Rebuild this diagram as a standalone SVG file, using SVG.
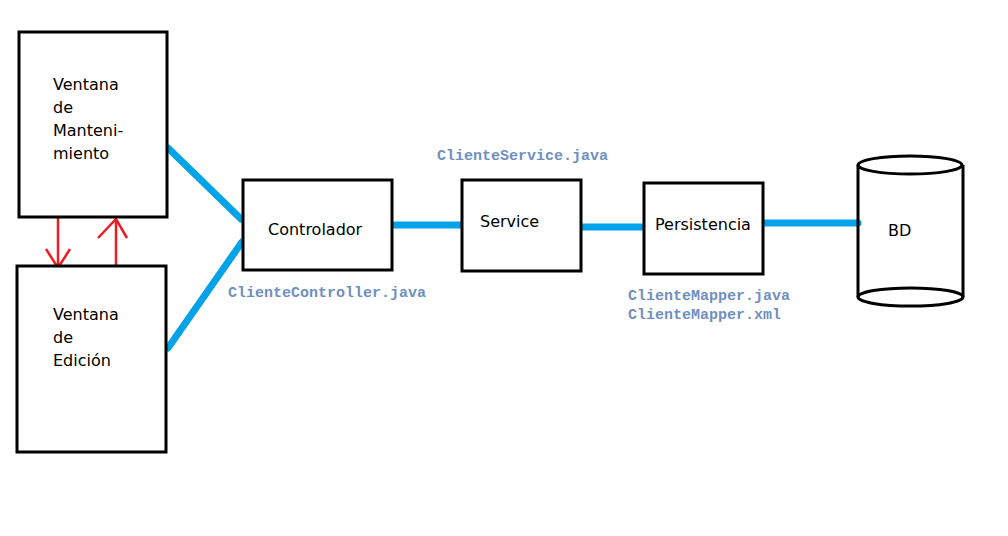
<svg xmlns="http://www.w3.org/2000/svg" width="1008" height="536" viewBox="0 0 1008 536">
<style>
.box{fill:#fff;stroke:#000;stroke-width:3}
.lbl{font-family:"DejaVu Sans",sans-serif;font-size:16px;fill:#000}
.code{font-family:"Liberation Mono",monospace;font-size:15px;font-weight:bold;fill:#6f8fc0}
.blue{stroke:#00a2e8;stroke-width:7;stroke-linecap:round;fill:none}
.red{stroke:#ed1c24;stroke-width:2.5;fill:none}
</style>
<rect width="1008" height="536" fill="#fff"/>
<g id="connectors">
<line class="blue" x1="168" y1="148" x2="241" y2="219"/>
<line class="blue" x1="168" y1="348" x2="242" y2="242"/>
<line class="blue" x1="395" y1="225" x2="461" y2="225"/>
<line class="blue" x1="583" y1="227" x2="642" y2="227"/>
<line class="blue" x1="765" y1="223" x2="858" y2="223"/>
<path class="red" d="M58 218 V268 M46 249 L58 268 L70 249"/>
<path class="red" d="M116 268 V219 M98 238 L116 219 L127 238"/>
</g>
<g id="mantenimiento">
<rect class="box" x="19" y="32" width="148" height="185"/>
<text class="lbl" x="53" y="90">Ventana</text>
<text class="lbl" x="53" y="113">de</text>
<text class="lbl" x="53" y="136">Manteni-</text>
<text class="lbl" x="53" y="159">miento</text>
</g>
<g id="edicion">
<rect class="box" x="17" y="266" width="149" height="186"/>
<text class="lbl" x="53" y="320">Ventana</text>
<text class="lbl" x="53" y="343">de</text>
<text class="lbl" x="53" y="366">Edición</text>
</g>
<g id="controlador">
<rect class="box" x="243" y="180" width="149" height="90"/>
<text class="lbl" x="268" y="235">Controlador</text>
<text class="code" x="228" y="297">ClienteController.java</text>
</g>
<g id="service">
<rect class="box" x="462" y="180" width="119" height="91"/>
<text class="lbl" x="480" y="227">Service</text>
<text class="code" x="437" y="160">ClienteService.java</text>
</g>
<g id="persistencia">
<rect class="box" x="644" y="183" width="119" height="91"/>
<text class="lbl" x="655" y="230">Persistencia</text>
<text class="code" x="628" y="300">ClienteMapper.java</text>
<text class="code" x="628" y="319">ClienteMapper.xml</text>
</g>
<g id="bd">
<path d="M858 165 V297 M963 165 V297" stroke="#000" stroke-width="3" fill="none"/>
<ellipse cx="910" cy="165" rx="52" ry="9" fill="#fff" stroke="#000" stroke-width="3"/>
<path d="M858 297 A52 9 0 0 0 963 297 A52 9 0 0 0 858 297" fill="none" stroke="#000" stroke-width="3"/>
<text class="lbl" x="888" y="236">BD</text>
</g>
</svg>
